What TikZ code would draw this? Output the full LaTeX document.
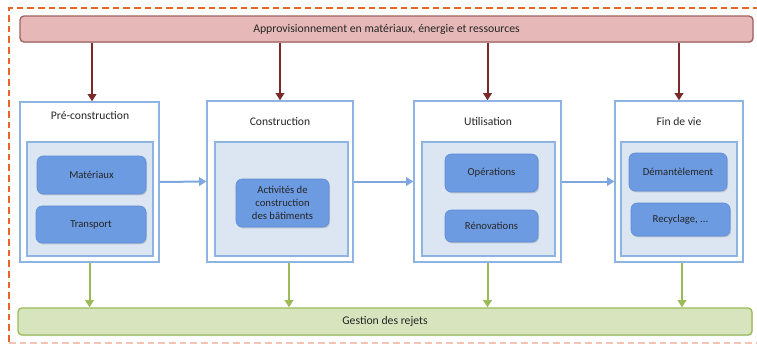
\documentclass[tikz,border=0pt]{standalone}
\usepackage{fontspec}
\setmainfont{Carlito}
\usetikzlibrary{arrows.meta,shadows}
\definecolor{frameorange}{HTML}{E8642A}
\definecolor{framepale}{HTML}{F5C4B4}
\definecolor{supplyfill}{HTML}{E6B9B8}
\definecolor{supplyline}{HTML}{A0625F}
\definecolor{wastefill}{HTML}{D7E4BD}
\definecolor{wasteline}{HTML}{9BBB59}
\definecolor{stageline}{HTML}{8EB4E3}
\definecolor{innerfill}{HTML}{DCE6F2}
\definecolor{btnfill}{HTML}{6C9BE2}
\definecolor{btnline}{HTML}{5B8BD4}
\definecolor{inarrow}{HTML}{7B2A2A}
\definecolor{flowarrow}{HTML}{7EA7E0}
\definecolor{textdark}{HTML}{262626}
\tikzset{
  bar/.style={draw=#1, line width=1pt, rounded corners=3pt, inner sep=0pt,
    font=\fontsize{8.8}{10}\selectfont, text=textdark,
    drop shadow={shadow xshift=0.6pt, shadow yshift=-0.8pt, opacity=0.25}},
  stagebox/.style={draw=stageline, line width=1pt, fill=white, inner sep=0pt},
  innerbox/.style={draw=stageline, line width=0.8pt, fill=innerfill, inner sep=0pt,
    drop shadow={shadow xshift=0.6pt, shadow yshift=-0.8pt, opacity=0.2}},
  stagetitle/.style={font=\fontsize{8.7}{10}\selectfont, text=textdark, inner sep=0pt},
  btn/.style={fill=btnfill, draw=btnline, line width=0.4pt, rounded corners=4.5pt,
    inner sep=0pt, align=center, font=\fontsize{8}{9.75}\selectfont, text=textdark,
    drop shadow={shadow xshift=0.8pt, shadow yshift=-1pt, opacity=0.3}},
  inflow/.style={draw=inarrow, line width=1.5pt, -{Triangle[length=5.5pt,width=6.5pt]}},
  stageflow/.style={draw=flowarrow, line width=1.5pt, -{Triangle[length=5.5pt,width=6.5pt]}},
  outflow/.style={draw=wasteline, line width=1.5pt, -{Triangle[length=5.5pt,width=6.5pt]}},
}
\begin{document}
\begin{tikzpicture}[x=0.75pt,y=-0.75pt]
\useasboundingbox (0,0) rectangle (757,347);
% dashed frame (cut off on the right)
\begin{scope}
  \clip (0,0) rectangle (757,347);
  \draw[frameorange, line width=1.2pt, dash pattern=on 5pt off 3pt] (770,8) -- (9,8) -- (9,343);
  \draw[framepale, line width=1.2pt, dash pattern=on 5pt off 3pt] (9,343) -- (770,343);
\end{scope}

% supply and waste bars
\node[bar=supplyline, fill=supplyfill, minimum width=549.75pt, minimum height=19.5pt]
  (supply) at (386.5,29) {Approvisionnement en matériaux, énergie et ressources};
\node[bar=wasteline, fill=wastefill, minimum width=550.5pt, minimum height=20.25pt]
  (waste) at (385,321.5) {Gestion des rejets};

% stage 1
\node[stagebox, minimum width=104.25pt, minimum height=120pt] (s1) at (89.5,182) {};
\node[innerbox, minimum width=94.5pt, minimum height=85.5pt] (s1in) at (90,199) {};
\node[stagetitle] (s1t) at (90,116) {Pré-construction};
\node[btn, minimum width=81.75pt, minimum height=28.5pt] (mat) at (91.5,175) {Matériaux};
\node[btn, minimum width=82.5pt, minimum height=27.75pt] (trans) at (91,224.5) {Transport};

% stage 2
\node[stagebox, minimum width=109.5pt, minimum height=120.75pt] (s2) at (280,181.5) {};
\node[innerbox, minimum width=99.75pt, minimum height=85.5pt] (s2in) at (281.5,199) {};
\node[stagetitle] (s2t) at (280,122) {Construction};
\node[btn, minimum width=69.75pt, minimum height=36pt] (act) at (282.5,203)
  {Activités de\\construction\\des bâtiments};

% stage 3
\node[stagebox, minimum width=110.25pt, minimum height=120.75pt] (s3) at (487.5,181.5) {};
\node[innerbox, minimum width=99.75pt, minimum height=85.5pt] (s3in) at (488.5,199) {};
\node[stagetitle] (s3t) at (488,122) {Utilisation};
\node[btn, minimum width=69.75pt, minimum height=28.5pt] (ops) at (491.5,173) {Opérations};
\node[btn, minimum width=69.75pt, minimum height=24pt] (reno) at (491.5,226) {Rénovations};

% stage 4
\node[stagebox, minimum width=96pt, minimum height=120.75pt] (s4) at (679,181.5) {};
\node[innerbox, minimum width=87pt, minimum height=85.5pt] (s4in) at (679,199) {};
\node[stagetitle] (s4t) at (679,122) {Fin de vie};
\node[btn, minimum width=73.5pt, minimum height=28.5pt] (dem) at (678,172) {Démantèlement};
\node[btn, minimum width=74.25pt, minimum height=24.75pt] (rec) at (680.5,219.5) {Recyclage, ...};

% supply arrows
\draw[inflow] ([xshift=1.9pt]supply.south -| s1.north) -- ([xshift=1.9pt]s1.north);
\draw[inflow] (supply.south -| s2.north) -- (s2.north);
\draw[inflow] (supply.south -| s3.north) -- (s3.north);
\draw[inflow] (supply.south -| s4.north) -- (s4.north);

% flow between stages
\draw[stageflow] (s1.east) -- (s2.west);
\draw[stageflow] (s2.east) -- (s3.west);
\draw[stageflow] (s3.east) -- (s4.west);

% waste arrows
\draw[outflow] (s1.south) -- (s1.south |- waste.north);
\draw[outflow] ([xshift=6.75pt]s2.south) -- ([xshift=6.75pt]s2.south |- waste.north);
\draw[outflow] (s3.south) -- (s3.south |- waste.north);
\draw[outflow] ([xshift=2.25pt]s4.south) -- ([xshift=2.25pt]s4.south |- waste.north);
\end{tikzpicture}
\end{document}
